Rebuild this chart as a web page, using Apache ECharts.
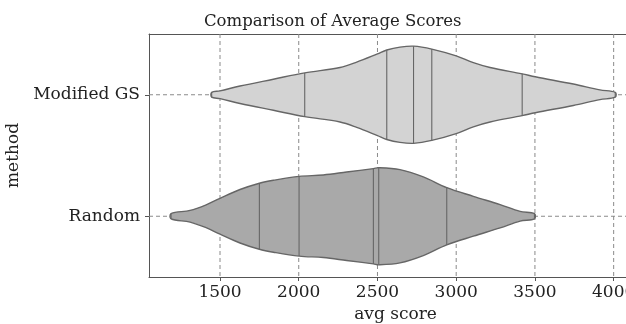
<!DOCTYPE html>
<html><head><meta charset="utf-8">
<script src="https://cdn.jsdelivr.net/npm/echarts@6/dist/echarts.min.js"></script>
<style>html,body{margin:0;padding:0;background:#fff;overflow:hidden}#c{width:642px;height:324px}</style>
</head><body><div id="c"></div>
<script>
// categories, bottom to top
const categories = ['Random', 'Modified GS'];
const xTicks = [1500, 2000, 2500, 3000, 3500, 4000];

// violin outline: score -> relative half width (1 = widest)
const rndScores = [1189, 1310, 1415, 1500, 1627, 1750, 1839, 2002, 2156, 2304, 2474, 2508, 2643, 2791, 2940, 3109, 3279, 3406, 3497];
const rndWidths = [0.055, 0.12, 0.24, 0.37, 0.55, 0.68, 0.74, 0.82, 0.85, 0.91, 0.98, 1.0, 0.96, 0.81, 0.59, 0.41, 0.24, 0.10, 0.055];
const rndSticks = [1189, 1750, 2002, 2474, 2508, 2940, 3497];

const gsScores = [1447, 1500, 1627, 1839, 2038, 2262, 2368, 2500, 2559, 2643, 2729, 2845, 3000, 3109, 3215, 3419, 3502, 3744, 3913, 4010];
const gsWidths = [0.05, 0.08, 0.18, 0.32, 0.45, 0.56, 0.67, 0.84, 0.92, 0.98, 1.0, 0.94, 0.80, 0.66, 0.56, 0.43, 0.37, 0.22, 0.10, 0.05];
const gsSticks = [1447, 2038, 2559, 2729, 2845, 3419, 4010];

const violins = [
  { scores: rndScores, widths: rndWidths, sticks: rndSticks, fill: '#a9a9a9' },
  { scores: gsScores, widths: gsWidths, sticks: gsSticks, fill: '#d3d3d3' }
];

const FONT = 'DejaVu Serif';
const TXT = '#222';

function widthAt(v, s) {
  const i = v.scores.indexOf(s);
  if (i >= 0) return v.widths[i];
  for (let k = 1; k < v.scores.length; k++) {
    if (s <= v.scores[k]) {
      const t = (s - v.scores[k - 1]) / (v.scores[k] - v.scores[k - 1]);
      return v.widths[k - 1] + t * (v.widths[k] - v.widths[k - 1]);
    }
  }
  return 0;
}

function renderViolin(params, api) {
  const ci = api.value(0);
  const v = violins[ci];
  const half = api.size([0, 1])[1] * 0.4;
  const upper = [], lower = [];
  for (let k = 0; k < v.scores.length; k++) {
    const p = api.coord([v.scores[k], ci]);
    upper.push([p[0], p[1] - v.widths[k] * half]);
    lower.push([p[0], p[1] + v.widths[k] * half]);
  }
  const pts = upper.concat(lower.reverse());
  const children = [{
    type: 'polygon',
    shape: { points: pts, smooth: 0.35 },
    style: { fill: v.fill, stroke: '#666', lineWidth: 1.4 }
  }];
  v.sticks.forEach(function (s) {
    const p = api.coord([s, ci]);
    const w = widthAt(v, s) * half;
    children.push({
      type: 'line',
      shape: { x1: p[0], y1: p[1] - w, x2: p[0], y2: p[1] + w },
      style: { stroke: '#666', lineWidth: 1.1 }
    });
  });
  return { type: 'group', children: children };
}

function renderGrid(params, api) {
  const cs = params.coordSys;
  const children = [];
  const dash = { stroke: '#8a8a8a', lineWidth: 1, lineDash: [4, 3] };
  xTicks.forEach(function (t) {
    const x = api.coord([t, 0])[0];
    children.push({ type: 'line', shape: { x1: x, y1: cs.y, x2: x, y2: cs.y + cs.height }, style: dash });
  });
  categories.forEach(function (c, i) {
    const y = api.coord([xTicks[0], i])[1];
    children.push({ type: 'line', shape: { x1: cs.x, y1: y, x2: cs.x + cs.width, y2: y }, style: dash });
  });
  return { type: 'group', children: children };
}

const chart = echarts.init(document.getElementById('c'), null, { renderer: 'canvas' });
chart.setOption({
  animation: false,
  backgroundColor: '#fff',
  title: {
    text: 'Comparison of Average Scores',
    left: 199, top: 8,
    textStyle: { fontFamily: FONT, fontSize: 16.5, fontWeight: 'normal', color: TXT }
  },
  grid: {
    left: 149, top: 34, right: 0, bottom: 47,
    containLabel: false, outerBoundsMode: 'none', show: false
  },
  xAxis: [{
    type: 'value', min: 1049, max: 4180,
    name: 'avg score', nameLocation: 'middle', nameGap: 27,
    nameTextStyle: { fontFamily: FONT, fontSize: 17, color: TXT },
    axisLine: { show: true, lineStyle: { color: '#555', width: 1 } },
    axisTick: { show: true, length: 4, customValues: xTicks, lineStyle: { color: '#555' } },
    axisLabel: { customValues: xTicks, formatter: function (v) { return String(v); }, fontFamily: FONT, fontSize: 17, color: TXT, margin: 7 },
    splitLine: { show: false }
  }, {
    type: 'value', position: 'top', min: 1049, max: 4180,
    axisLine: { show: true, lineStyle: { color: '#555', width: 1 } },
    axisTick: { show: false }, axisLabel: { show: false }, splitLine: { show: false }
  }],
  yAxis: {
    type: 'category', data: categories,
    name: 'method', nameLocation: 'middle', nameGap: 114, nameRotate: 90,
    nameTextStyle: { fontFamily: FONT, fontSize: 17, color: TXT },
    axisLine: { show: true, lineStyle: { color: '#555', width: 1 } },
    axisTick: { show: true, alignWithLabel: true, length: 4, lineStyle: { color: '#555' } },
    axisLabel: { fontFamily: FONT, fontSize: 17, color: TXT, margin: 9 },
    splitLine: { show: false }
  },
  series: [
    { type: 'custom', z: 1, silent: true, renderItem: renderGrid, data: [[0]] },
    { type: 'custom', z: 2, silent: true, renderItem: renderViolin, data: [[0], [1]], encode: { x: -1, y: 0 } }
  ]
});
</script>
</body></html>
